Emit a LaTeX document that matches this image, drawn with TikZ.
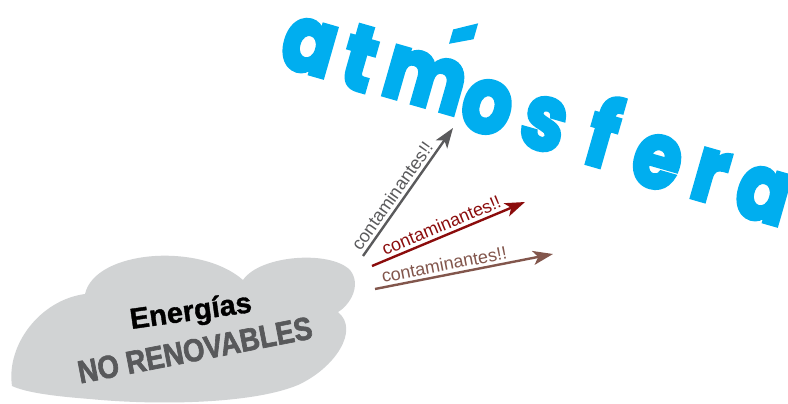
\documentclass[tikz,border=0pt]{standalone}
\usepackage{fontspec}
\setmainfont{Liberation Sans}
\newfontfamily\atmfont{Poppins}[FakeBold=4, FakeStretch=0.84]
\newfontfamily\dripfont{Liberation Sans}[FakeBold=2, FakeStretch=0.86]
\newfontfamily\blackfont{Liberation Sans}[FakeBold=1.2]
\usetikzlibrary{arrows.meta}
\definecolor{sky}{RGB}{0,174,239}
\definecolor{cloudgray}{RGB}{209,211,212}
\definecolor{dripgray}{RGB}{88,89,91}
\definecolor{arrgray}{RGB}{90,90,92}
\definecolor{arrred}{RGB}{139,12,12}
\definecolor{arrbrown}{RGB}{130,86,76}
\begin{document}
\begin{tikzpicture}[x=1pt,y=-1pt,
  letter/.style={text=sky, font=\atmfont\bfseries\fontsize{92}{96}\selectfont, inner sep=0pt, rotate=-16},
  contam/.style={-{Stealth[length=20pt,width=14pt,inset=5pt]}, line width=2.4pt},
  lab/.style={font=\fontsize{18}{20}\selectfont, sloped, above, inner sep=3pt}]
\useasboundingbox (0,0) rectangle (788,404);
% cloud
\fill[cloudgray] (12,386) .. controls (6,345) and (40,300) .. (85,294)
  .. controls (95,250) and (200,242) .. (243,280)
  .. controls (260,255) and (330,250) .. (350,270)
  .. controls (362,285) and (350,305) .. (338,312)
  .. controls (360,330) and (335,368) .. (298,385)
  .. controls (250,405) and (150,405) .. (90,399)
  .. controls (50,396) and (25,392) .. (12,386) -- cycle;
\node[rotate=8, font=\blackfont\bfseries\fontsize{29}{31}\selectfont, inner sep=0pt] (ener) at (191,313) {Energías};
\node[rotate=11, text=dripgray, font=\dripfont\bfseries\fontsize{32}{34}\selectfont, inner sep=0pt] (noren) at (195,350) {NO RENOVABLES};
% atmosfera
\node[letter] (l1) at (309,47) {a};
\node[letter] (l2) at (360,58) {t};
\node[letter] (l3) at (425,80) {m};
\node[letter] (l4) at (487,107) {o};
\node[letter] (acc) at (456,60) {´};
\node[letter] (l5) at (544,124) {s};
\node[letter] (l6) at (604,131) {f};
\node[letter] (l7) at (657,162) {e};
\node[letter] (l8) at (710,176) {r};
\node[letter] (l9) at (763,195) {a};
% arrows
\coordinate (g1) at (363,256); \coordinate (g2) at (453,128);
\coordinate (r1) at (372,266); \coordinate (r2) at (525,202);
\coordinate (b1) at (375,289); \coordinate (b2) at (553,254);
\draw[contam, arrgray] (g1) -- (g2) node[lab, pos=0.42, text=arrgray] (t1) {contaminantes!!};
\draw[contam, arrred] (r1) -- (r2) node[lab, pos=0.48, text=arrred] (t2) {contaminantes!!};
\draw[contam, arrbrown] (b1) -- (b2) node[lab, pos=0.40, text=arrbrown] (t3) {contaminantes!!};
\end{tikzpicture}
\end{document}
